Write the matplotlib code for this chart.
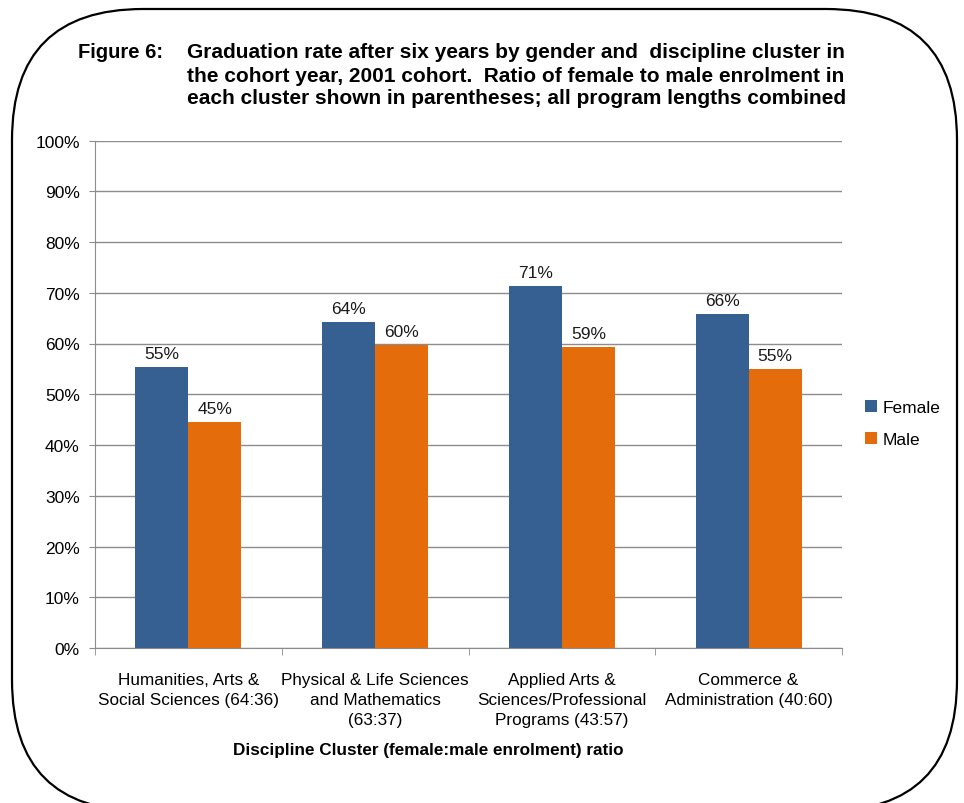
import matplotlib.pyplot as plt
import numpy as np
from matplotlib.patches import FancyBboxPatch

plt.rcParams['font.family'] = ['Liberation Sans', 'DejaVu Sans']

# data
categories = [
    "Humanities, Arts &\nSocial Sciences (64:36)",
    "Physical & Life Sciences\nand Mathematics\n(63:37)",
    "Applied Arts &\nSciences/Professional\nPrograms (43:57)",
    "Commerce &\nAdministration (40:60)",
]
female = [55.3, 64.2, 71.3, 65.8]
male = [44.6, 59.7, 59.3, 55.0]
series_names = ["Female", "Male"]
yticks = [0, 10, 20, 30, 40, 50, 60, 70, 80, 90, 100]

title_lines = [
    "Graduation rate after six years by gender and  discipline cluster in",
    "the cohort year, 2001 cohort.  Ratio of female to male enrolment in",
    "each cluster shown in parentheses; all program lengths combined",
]

BLUE = "#376092"
ORANGE = "#E46C0A"
GRID = "#8c8c8c"

W, H = 964, 804
fig = plt.figure(figsize=(W / 100, H / 100), dpi=100)

# rounded frame around the whole chart
frame = FancyBboxPatch((0.12, -0.08), 9.45, 8.02,
                       boxstyle="round,pad=0,rounding_size=1.31",
                       transform=fig.dpi_scale_trans,
                       fill=False, edgecolor="black", linewidth=1.6)
fig.patches.append(frame)

ax = fig.add_axes([95 / W, 1 - 649 / H, (842 - 95) / W, (649 - 141.5) / H])

x = np.arange(len(categories))
bw = 0.284
b1 = ax.bar(x - bw / 2, female, bw, color=BLUE, label=series_names[0], zorder=3)
b2 = ax.bar(x + bw / 2, male, bw, color=ORANGE, label=series_names[1], zorder=3)

for bars in (b1, b2):
    for r in bars:
        h = r.get_height()
        ax.text(r.get_x() + r.get_width() / 2, h + 1.2, f"{round(h):.0f}%",
                ha="center", va="bottom", fontsize=12.5, color="#1a1a1a")

ax.set_xlim(-0.5, len(categories) - 0.5)
ax.set_ylim(0, 100)
ax.set_yticks(yticks)
ax.set_yticklabels([f"{v}%" for v in yticks], fontsize=12.5)
ax.yaxis.grid(True, color=GRID, linewidth=1, zorder=0)

ax.set_xticks(x)
ax.set_xticklabels(categories, fontsize=12.3, linespacing=1.42)
ax.tick_params(axis="x", length=0, pad=17)
ax.set_xticks(np.arange(-0.5, len(categories)), minor=True)
ax.tick_params(axis="x", which="minor", length=5, color=GRID)
ax.tick_params(axis="y", length=4, color=GRID, pad=7)

for s in ["top", "right"]:
    ax.spines[s].set_visible(False)
for s in ["left", "bottom"]:
    ax.spines[s].set_color(GRID)

leg = ax.legend(loc="center left", bbox_to_anchor=(1.01, 0.442), frameon=False,
                fontsize=12.5, handlelength=0.7, handleheight=0.7,
                handletextpad=0.3, labelspacing=0.95)

# title
fig.text(78 / W, 1 - 53 / H, "Figure 6:", fontsize=14.5, fontweight="bold",
         va="center", ha="left")
for i, line in enumerate(title_lines):
    fig.text(187 / W, 1 - (53 + 23 * i) / H, line, fontsize=15,
             fontweight="bold", va="center", ha="left")

fig.text(428 / W, 1 - 751 / H, "Discipline Cluster (female:male enrolment) ratio",
         fontsize=12.3, fontweight="bold", ha="center", va="center")

fig.savefig("out.png", dpi=100)
